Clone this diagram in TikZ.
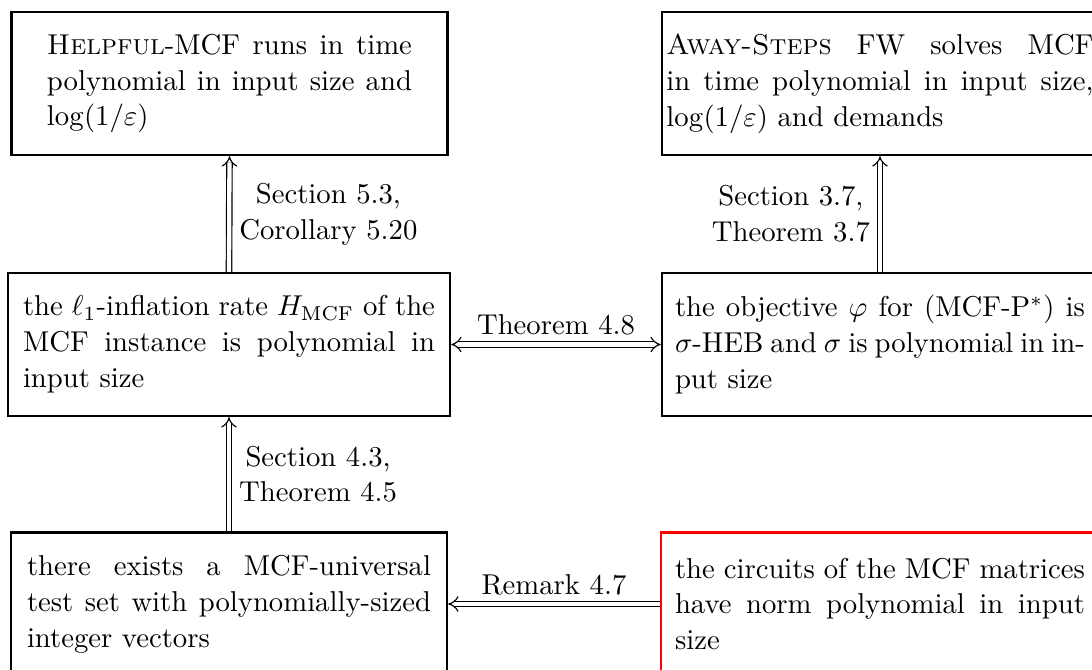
\documentclass[tikz,border=0pt]{standalone}
\usetikzlibrary{arrows.meta}
\tolerance=9999
\emergencystretch=2em
\hbadness=10000
\begin{document}
\begin{tikzpicture}[x=0.3484pt, y=-0.3484pt,
  box/.style={draw, thick, minimum height=49.82pt, inner ysep=2pt, align=justify,
    font=\fontsize{10pt}{12.5pt}\selectfont},
  imp/.style={double, double distance=1.5pt, line width=0.4pt, -{Implies[scale=2]}},
  lab/.style={align=center, font=\fontsize{10pt}{12.5pt}\selectfont}]
\useasboundingbox (0,0) rectangle (1092,670);
\clip (0,0) rectangle (1092,670);

\node[box, text width=127.17pt, inner xsep=12.37pt] (TL) at (229.5,83.5)
  {\textsc{Helpful}-MCF runs in time\linebreak polynomial in input size and\linebreak $\log(1/\varepsilon)$};
\node[box, text width=148.77pt, inner xsep=1.57pt] (TR) at (880,83.5)
  {\textsc{Away-Steps} FW solves MCF\linebreak in time polynomial in input size,\linebreak $\log(1/\varepsilon)$ and demands};
\node[box, text width=143.54pt, inner xsep=5.23pt] (ML) at (229,344.5)
  {the $\ell_1$-inflation rate $H_{\mathrm{MCF}}$ of the\linebreak MCF instance is polynomial in\linebreak input size};
\node[box, text width=142.84pt, inner xsep=4.53pt] (MR) at (880,344.5)
  {the objective $\varphi$ for (MCF-P$^*$) is\linebreak $\sigma$-HEB and $\sigma$ is polynomial in in-\linebreak put size};
\node[box, text width=140.75pt, inner xsep=5.57pt] (BL) at (229,604)
  {there exists a MCF-universal\linebreak test set with polynomially-sized\linebreak integer vectors};
\node[box, draw=red, text width=142.84pt, inner xsep=4.88pt] (BR) at (880,604)
  {the circuits of the MCF matrices\linebreak have norm polynomial in input\linebreak size};

\draw[imp] (ML.north) -- node[right, lab]{Section 5.3,\\Corollary 5.20} (TL.south);
\draw[imp] (BL.north) -- node[right, lab]{Section 4.3,\\Theorem 4.5} (ML.south);
\draw[imp] (MR.north) -- node[left, lab]{Section 3.7,\\Theorem 3.7} (TR.south);
\draw[imp, {Implies[scale=2]}-{Implies[scale=2]}] (ML.east) -- node[above, inner sep=3pt, lab]{Theorem 4.8} (MR.west);
\draw[imp] (BR.west) -- node[above, inner sep=3pt, lab]{Remark 4.7} (BL.east);
\end{tikzpicture}
\end{document}
